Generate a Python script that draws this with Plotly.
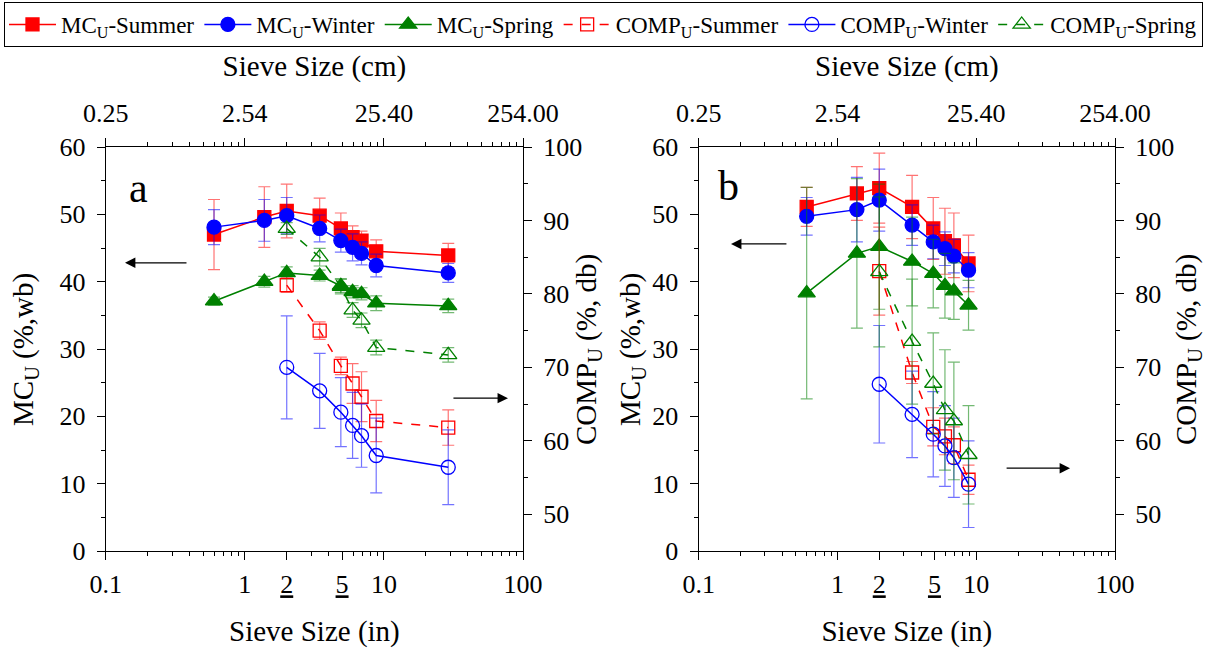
import plotly.graph_objects as go

W, H = 1211, 653
FONT = "Liberation Serif, Times New Roman, Times, serif"

# ---------------- data ----------------
# sieve sizes (in)
x_a = [0.6, 1.38, 2, 3.45, 4.9, 5.95, 6.9, 8.8, 29]
x_a_comp = [2, 3.45, 4.9, 5.95, 6.9, 8.8, 29]
x_b = [0.6, 1.38, 2, 3.45, 4.9, 5.95, 6.9, 8.8]
x_b_comp = [2, 3.45, 4.9, 5.95, 6.9, 8.8]

# panel a
mc_summer_a = [47.0, 49.6, 50.5, 49.8, 47.9, 46.6, 46.1, 44.5, 43.9]
mc_summer_a_err = [5.2, 4.5, 4.0, 2.6, 2.3, 1.7, 1.4, 1.7, 1.8]
mc_winter_a = [48.1, 49.1, 49.8, 47.9, 46.1, 45.1, 44.2, 42.4, 41.3]
mc_winter_a_err = [2.6, 3.1, 2.7, 2.0, 1.7, 2.0, 1.7, 1.7, 1.4]
mc_spring_a = [37.1, 40.0, 41.3, 40.9, 39.4, 38.5, 38.2, 36.8, 36.4]
mc_spring_a_err = [0.6, 0.8, 0.9, 0.8, 1.0, 0.9, 0.9, 1.1, 1.0]
comp_summer_a = [81.2, 75.0, 70.2, 67.8, 66.0, 62.7, 61.8]
comp_summer_a_err = [1.0, 1.2, 1.2, 2.7, 3.4, 2.8, 2.4]
comp_winter_a = [70.0, 66.8, 63.9, 62.1, 60.7, 58.0, 56.4]
comp_winter_a_err = [7.0, 5.1, 4.7, 4.5, 4.3, 5.1, 5.1]
comp_spring_a = [88.9, 85.0, 81.0, 77.8, 76.4, 72.7, 71.7]
comp_spring_a_err = [0.8, 1.2, 1.0, 1.0, 1.0, 1.0, 1.0]

# panel b
mc_summer_b = [51.1, 53.1, 53.9, 51.1, 47.9, 46.0, 45.4, 42.7]
mc_summer_b_err = [2.9, 4.0, 5.2, 4.7, 4.6, 4.9, 4.8, 4.2]
mc_winter_b = [49.7, 50.7, 52.1, 48.4, 45.9, 44.9, 43.8, 41.7]
mc_winter_b_err = [2.8, 4.8, 4.6, 3.0, 2.5, 2.5, 2.5, 2.6]
mc_spring_b = [38.3, 44.2, 45.2, 43.0, 41.2, 39.4, 38.6, 36.5]
mc_spring_b_err = [15.7, 11.1, 9.3, 6.6, 5.1, 4.8, 4.2, 3.7]
comp_summer_b = [83.1, 69.3, 61.9, 60.6, 59.4, 54.7]
comp_summer_b_err = [6.0, 1.5, 2.6, 2.5, 2.5, 2.0]
comp_winter_b = [67.7, 63.6, 60.9, 59.3, 57.7, 54.1]
comp_winter_b_err = [8.0, 5.9, 5.8, 5.5, 5.4, 5.9]
comp_spring_b = [83.0, 73.5, 67.8, 64.2, 62.7, 58.1]
comp_spring_b_err = [10.2, 8.5, 6.9, 8.2, 8.0, 6.7]

# axis tick labels
in_tickvals = [0.1, 1, 2, 5, 10, 100]
in_ticktext = ["0.1", "1", "<u>2</u>", "<u>5</u>", "10", "100"]
cm_tickvals = [0.1, 1, 10, 100]
cm_ticktext = ["0.25", "2.54", "25.40", "254.00"]
minor_vals = [0.2, 0.3, 0.4, 0.5, 0.6, 0.7, 0.8, 0.9,
              3, 4, 6, 7, 8, 9, 20, 30, 40, 50, 60, 70, 80, 90]
minor_vals_top = [0.2, 0.3, 0.4, 0.5, 0.6, 0.7, 0.8, 0.9,
                  2, 3, 4, 5, 6, 7, 8, 9, 20, 30, 40, 50, 60, 70, 80, 90]
mc_ticks = [0, 10, 20, 30, 40, 50, 60]
comp_ticks = [50, 60, 70, 80, 90, 100]

# ---------------- styling ----------------
RED, BLUE, GREEN = "#FF0000", "#0000FF", "#008000"
RED_E, BLUE_E, GREEN_E = "rgba(255,0,0,0.55)", "rgba(0,0,255,0.55)", "rgba(0,128,0,0.55)"

series_style = {
    "mc_summer": dict(name="MC<sub>U</sub>-Summer", color=RED, ecolor=RED_E, symbol="square", size=13, dash="solid"),
    "mc_winter": dict(name="MC<sub>U</sub>-Winter", color=BLUE, ecolor=BLUE_E, symbol="circle", size=14, dash="solid"),
    "mc_spring": dict(name="MC<sub>U</sub>-Spring", color=GREEN, ecolor=GREEN_E, symbol="triangle-up", size=15, dash="solid"),
    "comp_summer": dict(name="COMP<sub>U</sub>-Summer", color=RED, ecolor=RED_E, symbol="square-open", size=13, dash="dash"),
    "comp_winter": dict(name="COMP<sub>U</sub>-Winter", color=BLUE, ecolor=BLUE_E, symbol="circle-open", size=14, dash="solid"),
    "comp_spring": dict(name="COMP<sub>U</sub>-Spring", color=GREEN, ecolor=GREEN_E, symbol="triangle-up-open", size=15, dash="dash"),
}

fig = go.Figure()


def add(key, x, y, err, xa, ya, legend):
    s = series_style[key]
    fig.add_trace(go.Scatter(
        x=x, y=y, name=s["name"], mode="lines+markers",
        xaxis=xa, yaxis=ya, showlegend=legend, legendgroup=key,
        line=dict(color=s["color"], width=1.5, dash=s["dash"]),
        marker=dict(symbol=s["symbol"], size=s["size"], color=s["color"],
                    line=dict(width=1.3, color=s["color"])),
        error_y=dict(type="data", array=err, color=s["ecolor"], thickness=1.2, width=6),
    ))


# panel a : MC on bottom/left axes, COMP on top(cm-labelled, same inch scale)/right axes
add("mc_summer", x_a, mc_summer_a, mc_summer_a_err, "x", "y", True)
add("mc_winter", x_a, mc_winter_a, mc_winter_a_err, "x", "y", True)
add("mc_spring", x_a, mc_spring_a, mc_spring_a_err, "x", "y", True)
add("comp_summer", x_a_comp, comp_summer_a, comp_summer_a_err, "x2", "y2", True)
add("comp_winter", x_a_comp, comp_winter_a, comp_winter_a_err, "x2", "y2", True)
add("comp_spring", x_a_comp, comp_spring_a, comp_spring_a_err, "x2", "y2", True)
# panel b
add("mc_summer", x_b, mc_summer_b, mc_summer_b_err, "x3", "y3", False)
add("mc_winter", x_b, mc_winter_b, mc_winter_b_err, "x3", "y3", False)
add("mc_spring", x_b, mc_spring_b, mc_spring_b_err, "x3", "y3", False)
add("comp_summer", x_b_comp, comp_summer_b, comp_summer_b_err, "x4", "y4", False)
add("comp_winter", x_b_comp, comp_winter_b, comp_winter_b_err, "x4", "y4", False)
add("comp_spring", x_b_comp, comp_spring_b, comp_spring_b_err, "x4", "y4", False)


def tf(size=26):
    return dict(family=FONT, size=size, color="black")


def px_x(p):
    return p / W

def px_y(p):
    return 1 - p / H

dom_a = [px_x(105.8), px_x(523)]
dom_b = [px_x(698.7), px_x(1115)]
dom_y = [px_y(551), px_y(147)]

base = dict(showline=True, linecolor="black", linewidth=1.3, ticks="outside",
            ticklen=8, tickwidth=1.3, tickcolor="black", showgrid=False, zeroline=False,
            tickfont=tf())

def xbottom(domain, anchor):
    return dict(type="log", range=[-1, 2], domain=domain, anchor=anchor,
                tickmode="array", tickvals=in_tickvals, ticktext=in_ticktext,
                ticklabelstandoff=2,
                minor=dict(tickmode="array", tickvals=minor_vals, ticklen=4, tickwidth=1.2,
                           tickcolor="black", ticks="outside", showgrid=False),
                title=dict(text="Sieve Size (in)", font=tf(29), standoff=22), **base)

def xtop(overlay, anchor):
    return dict(type="log", range=[-1, 2], overlaying=overlay, anchor=anchor, side="top",
                tickmode="array", tickvals=cm_tickvals, ticktext=cm_ticktext,
                ticklabelstandoff=5,
                minor=dict(tickmode="array", tickvals=minor_vals_top, ticklen=4, tickwidth=1.2,
                           tickcolor="black", ticks="outside", showgrid=False),
                title=dict(text="Sieve Size (cm)", font=tf(29), standoff=14), **base)

def yleft(anchor):
    return dict(range=[0, 60], domain=dom_y, anchor=anchor, tickmode="array", tickvals=mc_ticks,
                ticklabelstandoff=6,
                minor=dict(dtick=5, ticklen=4, tickwidth=1.2, tickcolor="black", ticks="outside",
                           showgrid=False), **base)

def yright(overlay, anchor):
    return dict(range=[45, 100], overlaying=overlay, anchor=anchor, side="right",
                tickmode="array", tickvals=comp_ticks, ticklabelstandoff=6,
                minor=dict(tickmode="array", tickvals=[55, 65, 75, 85, 95], ticklen=4, tickwidth=1.2,
                           tickcolor="black", ticks="outside", showgrid=False), **base)

fig.update_layout(
    width=W, height=H,
    margin=dict(l=0, r=0, t=0, b=0, autoexpand=False),
    paper_bgcolor="white", plot_bgcolor="white",
    font=dict(family=FONT, color="black"),
    xaxis=xbottom(dom_a, "y"),
    xaxis2=xtop("x", "y2"),
    yaxis=yleft("x"),
    yaxis2=yright("y", "x"),
    xaxis3=xbottom(dom_b, "y3"),
    xaxis4=xtop("x3", "y4"),
    yaxis3=yleft("x3"),
    yaxis4=yright("y3", "x3"),
    legend=dict(orientation="h", x=px_x(4), xanchor="left", y=px_y(2), yanchor="top",
                bordercolor="black", borderwidth=1, bgcolor="white",
                font=dict(family=FONT, size=23, color="black"),
                itemwidth=47, tracegroupgap=0),
    showlegend=True,
)

# y-axis titles (vertical text)
ytitles = [("MC<sub>U</sub> (%,wb)", 25), ("COMP<sub>U</sub> (%, db)", 588),
           ("MC<sub>U</sub> (%,wb)", 632), ("COMP<sub>U</sub> (%, db)", 1188)]
for txt, xc in ytitles:
    fig.add_annotation(text=txt, x=px_x(xc), y=px_y(350), xref="paper", yref="paper",
                       xanchor="center", yanchor="middle", textangle=-90, showarrow=False,
                       font=tf(29))

# panel letters
fig.add_annotation(text="a", x=px_x(138), y=px_y(188), xref="paper", yref="paper",
                   xanchor="center", yanchor="middle",
                   showarrow=False, font=dict(family=FONT, size=42, color="black"))
fig.add_annotation(text="b", x=px_x(728), y=px_y(186), xref="paper", yref="paper",
                   xanchor="center", yanchor="middle",
                   showarrow=False, font=dict(family=FONT, size=42, color="black"))

# axis-indicating arrows, placed in each panel's own axis coordinates (log10 x, MC y)
arrow_specs = [("x", "y", -0.862, -0.409, 42.8), ("x", "y", 1.892, 1.489, 22.7),
               ("x3", "y3", -0.767, -0.357, 45.6), ("x3", "y3", 1.676, 1.208, 12.3)]
for xr, yr, hx, tx, yv in arrow_specs:
    fig.add_annotation(x=hx, y=yv, ax=tx, ay=yv, xref=xr, yref=yr, axref=xr, ayref=yr,
                       text="", showarrow=True, arrowhead=2, arrowsize=1.6,
                       arrowwidth=1.3, arrowcolor="black", standoff=0, startstandoff=0)

fig.write_html("out.html")
